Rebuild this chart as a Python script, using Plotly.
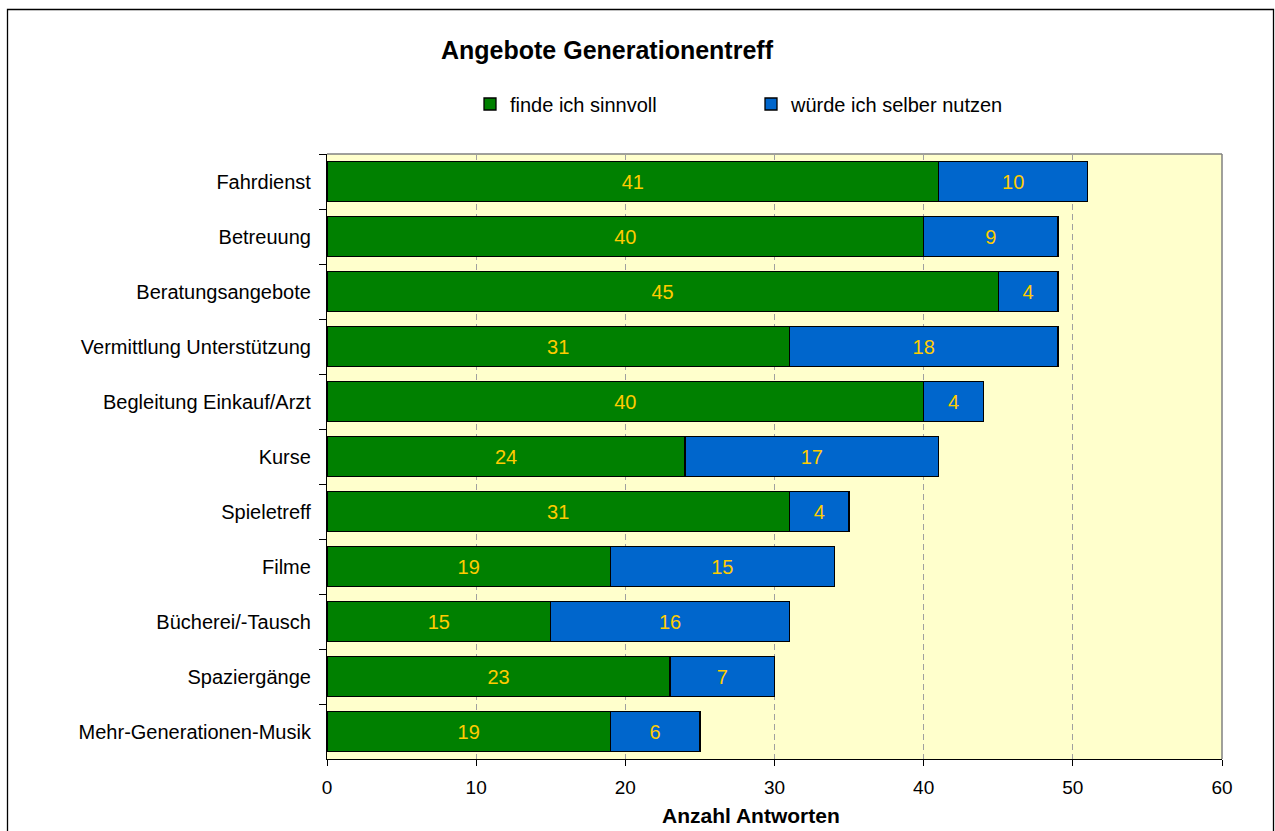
import plotly.graph_objects as go

categories = ["Fahrdienst", "Betreuung", "Beratungsangebote", "Vermittlung Unterstützung",
              "Begleitung Einkauf/Arzt", "Kurse", "Spieletreff", "Filme",
              "Bücherei/-Tausch", "Spaziergänge", "Mehr-Generationen-Musik"]
sinnvoll = [41, 40, 45, 31, 40, 24, 31, 19, 15, 23, 19]
nutzen = [10, 9, 4, 18, 4, 17, 4, 15, 16, 7, 6]
series_names = ["finde ich sinnvoll", "würde ich selber nutzen"]
x_ticks = [0, 10, 20, 30, 40, 50, 60]

FONT = "Liberation Sans, Arial, sans-serif"
W, H = 1275, 831
L, R, T, B = 327, 1222, 154, 759

def px(p):
    return (p - L) / (R - L)

def py(p):
    return (B - p) / (B - T)

fig = go.Figure()
for name, vals, color in [(series_names[0], sinnvoll, "#008000"),
                          (series_names[1], nutzen, "#0066CC")]:
    fig.add_trace(go.Bar(
        y=categories, x=vals, name=name, orientation="h",
        marker=dict(color=color, line=dict(color="#000000", width=1.3)),
        text=[str(v) for v in vals], textposition="inside",
        insidetextanchor="middle",
        textfont=dict(color="#FFCC00", size=20, family=FONT),
        hoverinfo="x+y",
    ))

fig.update_layout(
    width=W, height=H,
    margin=dict(l=L, r=W - R, t=T, b=H - B, pad=0),
    barmode="stack", bargap=0.27,
    plot_bgcolor="#FFFFCC", paper_bgcolor="#FFFFFF",
    font=dict(family=FONT, size=20, color="#000000"),
    showlegend=True,
    legend=dict(orientation="h", x=px(470), y=py(104), xanchor="left", yanchor="middle",
                font=dict(size=20, family=FONT), traceorder="normal",
                itemwidth=30, entrywidth=236, entrywidthmode="pixels",
                bgcolor="rgba(0,0,0,0)"),
    xaxis=dict(range=[0, 60], tickvals=x_ticks, ticktext=[str(t) for t in x_ticks],
               showgrid=True, gridcolor="#A0A0A0", griddash="6px,4px", gridwidth=1,
               showline=True, linecolor="#000000", linewidth=1,
               ticks="outside", ticklen=6, tickcolor="#000000", ticklabelstandoff=5,
               tickfont=dict(size=19, family=FONT), zeroline=False, fixedrange=True),
    yaxis=dict(categoryorder="array", categoryarray=categories, autorange="reversed",
               showline=True, linecolor="#000000", linewidth=1,
               ticks="outside", ticklen=7, tickcolor="#000000", tickson="boundaries",
               showgrid=False, tickfont=dict(size=20, family=FONT), ticksuffix="  "),
)

# plot-area top/right border (gray)
fig.add_shape(type="line", xref="paper", yref="paper", x0=0, x1=1, y0=1, y1=1,
              line=dict(color="#808080", width=1.5), layer="below")
fig.add_shape(type="line", xref="paper", yref="paper", x0=1, x1=1, y0=0, y1=1,
              line=dict(color="#808080", width=1.5), layer="below")
# outer chart border
fig.add_shape(type="rect", xref="paper", yref="paper",
              x0=px(7.5), x1=px(1273.5), y0=py(840), y1=py(9.5),
              line=dict(color="#000000", width=1.3), fillcolor="rgba(0,0,0,0)")

fig.add_annotation(text="<b>Angebote Generationentreff</b>", xref="paper", yref="paper",
                   x=px(607), y=py(50), xanchor="center", yanchor="middle",
                   showarrow=False, font=dict(size=25, family=FONT))
fig.add_annotation(text="<b>Anzahl Antworten</b>", xref="paper", yref="paper",
                   x=px(751), y=py(815), xanchor="center", yanchor="middle",
                   showarrow=False, font=dict(size=21, family=FONT))

fig.write_html("out.html")
